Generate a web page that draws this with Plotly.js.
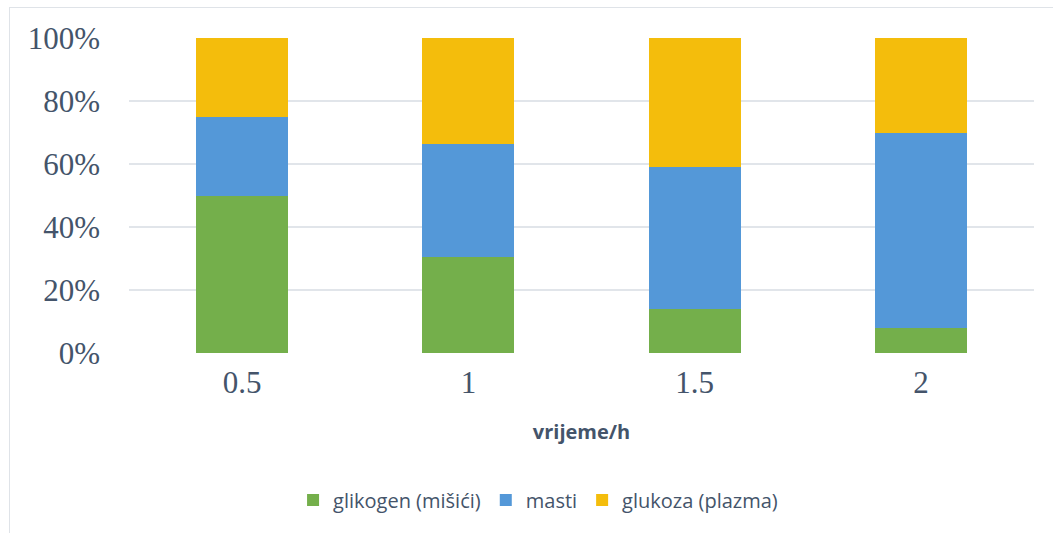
<!DOCTYPE html>
<html>
<head>
<meta charset="utf-8">
<script src="https://cdn.plot.ly/plotly-3.0.1.min.js"></script>
<style>
html,body{margin:0;padding:0;background:#fff;overflow:hidden;}
#wrap{position:relative;width:1053px;height:533px;}
#chart{position:absolute;left:0;top:0;width:1053px;height:533px;}
#frame{position:absolute;left:9px;top:7px;width:1100px;height:600px;border:1px solid #dfe3e8;pointer-events:none;}
</style>
</head>
<body>
<div id="wrap"><div id="chart"></div><div id="frame"></div></div>
<script>
const categories = ["0.5", "1", "1.5", "2"];
const glikogen = [50, 30.5, 14, 8];
const masti = [25, 36, 45, 62];
const glukoza = [25, 33.5, 41, 30];
const seriesNames = ["glikogen (mišići)", "masti", "glukoza (plazma)"];

const colors = ["#74AF4B", "#5498D8", "#F4BD0C"];
const data = [glikogen, masti, glukoza].map((vals, i) => ({
  type: "bar",
  x: categories,
  y: vals,
  name: seriesNames[i],
  marker: {color: colors[i], line: {width: 0}},
  hoverinfo: "skip"
}));

const layout = {
  width: 1053, height: 533,
  margin: {l: 129, r: 19, t: 38, b: 180},
  paper_bgcolor: "#ffffff", plot_bgcolor: "#ffffff",
  barmode: "stack",
  bargap: 0.593,
  showlegend: true,
  legend: {
    orientation: "h", x: 0.452, xanchor: "center", y: -0.467, yanchor: "middle",
    font: {family: "Open Sans, Noto Sans, sans-serif", size: 20, color: "#44546A"},
    traceorder: "normal", itemwidth: 30
  },
  xaxis: {
    type: "category",
    tickfont: {family: "Liberation Serif, Times New Roman, serif", size: 31, color: "#44546A"},
    showgrid: false, zeroline: false, showline: false, ticks: "",
    ticklabelstandoff: 8,
    title: {text: "<b>vrijeme/h</b>", font: {family: "Open Sans, Noto Sans, sans-serif", size: 20, color: "#44546A"}, standoff: 25}
  },
  yaxis: {
    range: [0, 100], dtick: 20, ticksuffix: "%",
    tickfont: {family: "Liberation Serif, Times New Roman, serif", size: 31, color: "#44546A"},
    showgrid: true, gridcolor: "#e1e5ea", gridwidth: 1.5,
    zeroline: false, showline: false, ticks: "",
    ticklabelstandoff: 28
  }
};

Plotly.newPlot("chart", data, layout, {displayModeBar: false, staticPlot: true});
</script>
</body>
</html>
